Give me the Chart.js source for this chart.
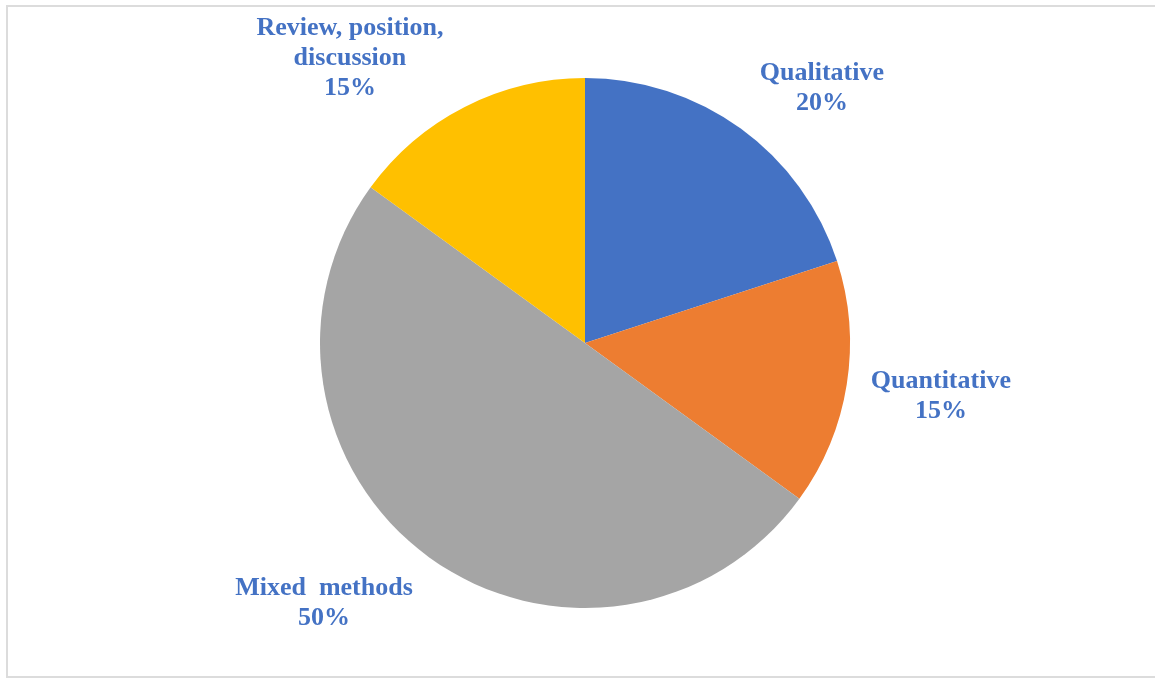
<!DOCTYPE html>
<html lang="en">
<head>
    <meta charset="UTF-8">
    <title>Research methods</title>
    <script src="https://cdn.jsdelivr.net/npm/chart.js"></script>
    <style>
        body { margin: 0; background: #fff; }
        .marco {
            position: relative;
            width: 1155px;
            height: 680px;
            overflow: hidden;
        }
        .borde {
            position: absolute;
            left: 6px;
            top: 5px;
            width: 1160px;
            height: 673px;
            border: 2px solid #dcdcdc;
            box-sizing: border-box;
        }
        canvas { position: absolute; left: 0; top: 0; }
    </style>
</head>
<body>
<div class="marco">
    <div class="borde"></div>
    <canvas id="grafico" width="1155" height="680"></canvas>
</div>

<script>
    const categorias = [['Qualitative'], ['Quantitative'], ['Mixed  methods'], ['Review, position,', 'discussion']];
    const porcentajes = [20, 15, 50, 15];
    const colores = ['#4472C4', '#ED7D31', '#A5A5A5', '#FFC000'];

    // posicion de cada etiqueta, en radios desde el centro
    const posEtiquetas = [[0.894, -0.96], [1.343, 0.2], [-0.985, 0.982], [-0.887, -1.075]];

    const etiquetas = {
        id: 'etiquetas',
        afterDraw(chart) {
            const ctx = chart.ctx;
            const arco = chart.getDatasetMeta(0).data[0];
            const cx = arco.x, cy = arco.y, r = arco.outerRadius;
            ctx.save();
            ctx.font = 'bold 26px "Liberation Serif", "Times New Roman", serif';
            ctx.fillStyle = '#4472C4';
            ctx.textAlign = 'center';
            ctx.textBaseline = 'middle';
            const alto = 30;
            categorias.forEach((lineas, i) => {
                const todas = lineas.concat([porcentajes[i] + '%']);
                const x = cx + posEtiquetas[i][0] * r;
                const y0 = cy + posEtiquetas[i][1] * r - (todas.length - 1) * alto / 2;
                todas.forEach((t, j) => ctx.fillText(t, x, y0 + j * alto));
            });
            ctx.restore();
        }
    };

    new Chart(document.getElementById('grafico'), {
        type: 'pie',
        data: {
            labels: categorias.map(c => c.join(' ')),
            datasets: [{
                data: porcentajes,
                backgroundColor: colores,
                borderWidth: 0
            }]
        },
        options: {
            responsive: false,
            animation: false,
            layout: { padding: { left: 15, right: 0, top: 78, bottom: 72 } },
            plugins: {
                legend: { display: false },
                tooltip: { enabled: false }
            }
        },
        plugins: [etiquetas]
    });
</script>
</body>
</html>
